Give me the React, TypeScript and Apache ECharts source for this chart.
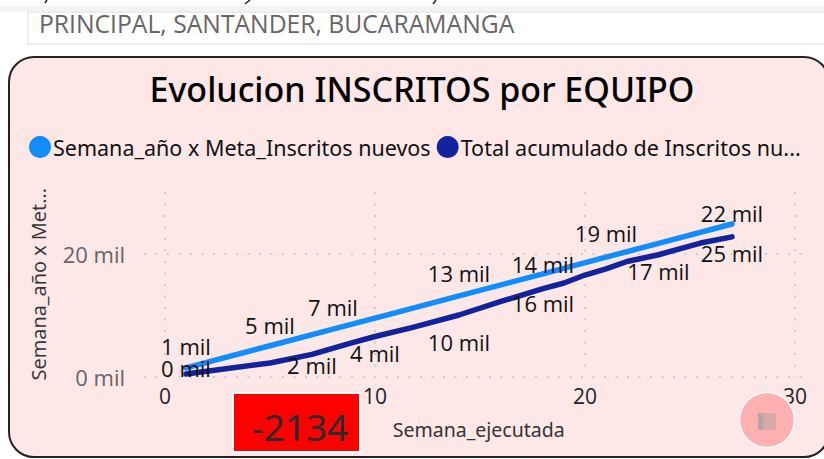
import React, { useEffect, useRef } from "react";
import * as echarts from "echarts";

const titleText = "Evolucion INSCRITOS por EQUIPO";
const filterText = "PRINCIPAL, SANTANDER, BUCARAMANGA";
const kpiText = "-2134";
const xName = "Semana_ejecutada";
const yName = "Semana_año x Met...";
const metaName = "Semana_año x Meta_Inscritos nuevos";
const totalName = "Total acumulado de Inscritos nu...";

const xTicks = [0, 10, 20, 30];
const yTicks = [0, 20000];

const metaWeeks = [1, 5, 8, 11, 14, 18, 21, 24, 27];
const metaValues = [1400, 5000, 7700, 10400, 13100, 16700, 19400, 22100, 24800];
const metaLabels = ["1 mil", "5 mil", "7 mil", "", "13 mil", "14 mil", "19 mil", "", "22 mil"];
const metaLabelDy = [-22, -21, -22, 0, -23, -10, -24, 0, -11];

const totalWeeks = [1, 5, 7, 8.8, 10, 11.8, 14, 16, 18, 19, 20, 21, 22, 23.5, 25.5, 27];
const totalValues = [400, 2200, 3600, 5400, 6500, 8000, 10000, 12200, 14300, 15200, 16500, 17500, 18700, 19800, 21700, 22700];
const totalLabels = ["0 mil", "", "2 mil", "", "4 mil", "", "10 mil", "", "16 mil", "", "", "", "", "17 mil", "", "25 mil"];
const totalLabelDy = [-6, 0, 11, 0, 16, 0, 27, 0, 14, 0, 0, 0, 0, 16, 0, 16];

const SEGOE = '"Open Sans", "Noto Sans", sans-serif';
const DIN = '"Noto Sans", sans-serif';

function points(weeks: number[], values: number[], labels: string[], dy: number[]) {
  return weeks.map((w, i) => ({
    value: [w, values[i]],
    label: labels[i]
      ? { show: true, formatter: labels[i], position: "inside", offset: [0, dy[i]] }
      : { show: false },
  }));
}

export default function App() {
  const ref = useRef<HTMLDivElement>(null);
  useEffect(() => {
    document.body.style.margin = "0";
    const chart = echarts.init(ref.current!, null, { renderer: "svg" });
    const dotted = { color: "#CBCBCB", width: 2, type: [2, 9.5] as number[] };
    const labelStyle = { color: "#111", fontSize: 22, fontFamily: SEGOE };
    chart.setOption({
      animation: false,
      backgroundColor: "#ffffff",
      title: {
        text: titleText,
        left: 417,
        top: 67,
        textAlign: "center",
        textStyle: { fontFamily: DIN, fontWeight: 500, fontSize: 34, color: "#000" },
      },
      legend: {
        left: 24,
        top: 131,
        width: 796,
        icon: "circle",
        itemWidth: 22,
        itemHeight: 22,
        itemGap: 6,
        data: [metaName, totalName],
        textStyle: { fontFamily: DIN, fontSize: 21.5, color: "#111", padding: [0, 0, 0, -3] },
      },
      grid: { left: 144, right: 18.5, top: 192, bottom: 82.5 },
      xAxis: {
        type: "value",
        min: -1,
        max: 30.5,
        name: xName,
        nameLocation: "middle",
        nameGap: 43,
        nameTextStyle: { fontFamily: DIN, fontSize: 19.5, color: "#333", padding: [0, 0, 0, 8] },
        axisLine: { show: false },
        axisTick: { show: false, customValues: xTicks },
        axisLabel: { customValues: xTicks, color: "#222", fontSize: 21, fontFamily: SEGOE, margin: 9 },
        splitLine: { show: true, lineStyle: dotted },
      },
      yAxis: {
        type: "value",
        min: 0,
        max: 30000,
        name: yName,
        nameLocation: "middle",
        nameGap: 96,
        nameTextStyle: { fontFamily: SEGOE, fontSize: 20, color: "#333" },
        axisLine: { show: false },
        axisTick: { show: false, customValues: yTicks },
        axisLabel: {
          customValues: yTicks,
          color: "#666",
          fontSize: 22,
          fontFamily: SEGOE,
          margin: 19,
          padding: [0, 0, 3, 0],
          formatter: (v: number) => `${v / 1000} mil`,
        },
        splitLine: { show: true, lineStyle: dotted },
      },
      series: [
        {
          name: metaName,
          type: "line",
          symbol: "circle",
          symbolSize: 0,
          color: "#118DFF",
          lineStyle: { width: 5.5, color: "#118DFF", cap: "round" },
          label: labelStyle,
          z: 3,
          data: points(metaWeeks, metaValues, metaLabels, metaLabelDy),
        },
        {
          name: totalName,
          type: "line",
          symbol: "circle",
          symbolSize: 0,
          color: "#12239E",
          lineStyle: { width: 5.5, color: "#12239E", cap: "round", join: "round" },
          label: labelStyle,
          z: 4,
          data: points(totalWeeks, totalValues, totalLabels, totalLabelDy),
        },
      ],
      graphic: [
        { type: "rect", z: -10, silent: true, shape: { x: 0, y: 6, width: 824, height: 6 }, style: { fill: "#F3F3F3" } },
        { type: "rect", z: -10, silent: true, shape: { x: 28, y: 12, width: 800, height: 32 }, style: { fill: "#fff", stroke: "#EDEDED", lineWidth: 2 } },
        { type: "line", z: -9, silent: true, shape: { x1: 47, y1: 0, x2: 45, y2: 3 }, style: { stroke: "#222", lineWidth: 1.5 } },
        { type: "line", z: -9, silent: true, shape: { x1: 250, y1: 0, x2: 245, y2: 4 }, style: { stroke: "#222", lineWidth: 1.5 } },
        { type: "line", z: -9, silent: true, shape: { x1: 436, y1: 0, x2: 433, y2: 4 }, style: { stroke: "#222", lineWidth: 1.5 } },
        { type: "text", z: -8, silent: true, x: 39, y: 23, style: { text: filterText, fill: "#666", fontSize: 24.7, fontFamily: SEGOE, verticalAlign: "middle" } },
        { type: "rect", z: -7, silent: true, shape: { x: 9, y: 57, width: 820, height: 400, r: 25 }, style: { fill: "#FEE7E7", stroke: "#222", lineWidth: 2 } },
        { type: "rect", z: 50, silent: true, shape: { x: 233, y: 393, width: 127, height: 59 }, style: { fill: "#FF0000", stroke: "#fff", lineWidth: 2 } },
        { type: "text", z: 51, silent: true, x: 300, y: 426, style: { text: kpiText, fill: "#2b2b2b", fontSize: 37, fontFamily: DIN, align: "center", verticalAlign: "middle" } },
        { type: "circle", z: 50, silent: true, shape: { cx: 767, cy: 420, r: 27.5 }, style: { fill: "#FFB0B0", stroke: "#fff", lineWidth: 1.5 } },
        { type: "rect", z: 51, silent: true, shape: { x: 758, y: 413, width: 18, height: 17 }, style: { fill: "#D9A8A8" } },
        { type: "rect", z: 52, silent: true, shape: { x: 758, y: 413, width: 5, height: 17 }, style: { fill: "#B5A5A5" } },
      ],
    });
    return () => chart.dispose();
  }, []);
  return <div ref={ref} style={{ position: "absolute", left: 0, top: 0, width: 824, height: 459 }} />;
}
